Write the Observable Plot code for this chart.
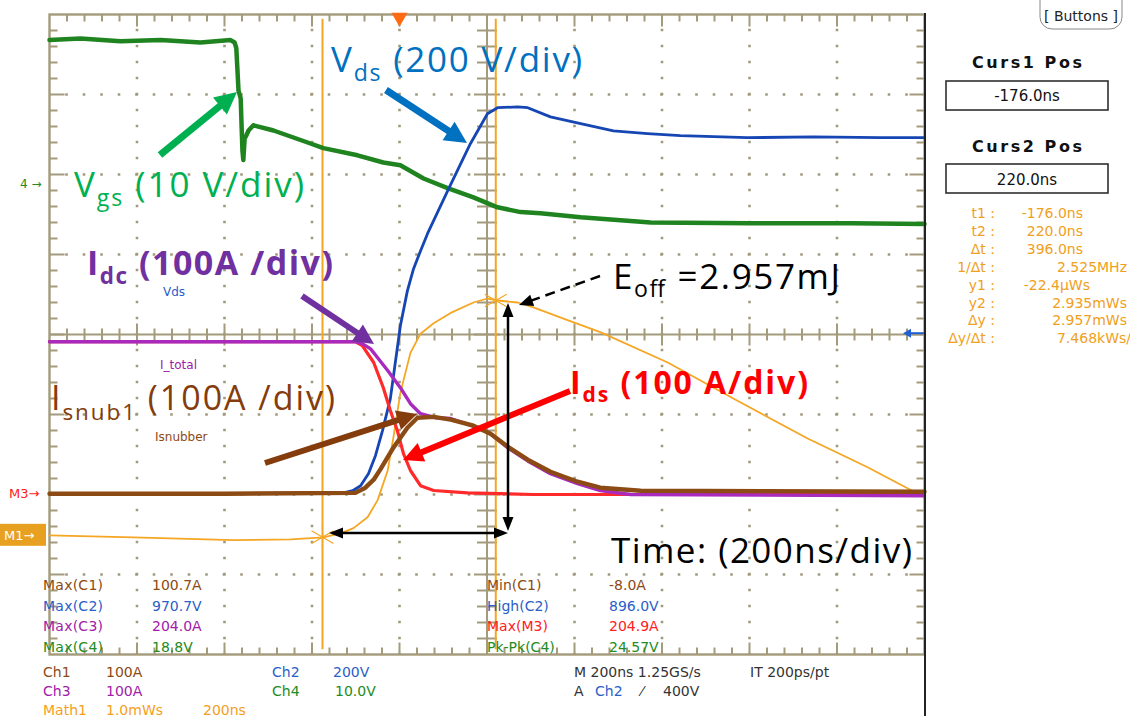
<!DOCTYPE html>
<html><head><meta charset="utf-8">
<script src="https://cdn.jsdelivr.net/npm/d3@7"></script>
<script src="https://cdn.jsdelivr.net/npm/@observablehq/plot@0.6"></script>
<style>
body{margin:0;background:#fff;}
#chart{position:relative;width:1130px;height:719px;overflow:hidden;background:#fff}
#chart > svg{position:absolute;left:0;top:0}
#overlay text{white-space:pre}
</style>
</head><body><div id="chart"></div>
<script>
// ---------------- DATA (time in ns, physical units) ----------------
// Ch4: gate-source voltage Vgs (V)
const vgsT = [-800,-729,-638,-546,-455,-386,-377,-373,-368,-363,-361,-359,-357,-354,-350,-345,-334,-288,-210,-174,-96,-37,2,55,110,169,224,277,322,414,574,802,1031,1200];
const vgsV = [17.9,18.1,17.75,17.9,17.6,17.9,17.6,16.9,11.6,10.6,7.25,4.1,2.9,5.6,6.0,6.6,7.25,6.6,5.1,4.4,3.5,2.6,2.25,0.6,-0.6,-1.75,-3.0,-3.6,-3.75,-4.25,-4.9,-5.0,-5.0,-5.1];
// Ch2: drain-source voltage Vds (V)
const vdsT = [-800,-600,-400,-200,-135,-107,-89,-71,-55,-39,-21,2,18,32,48,64,110,162,201,224,270,293,345,414,489,567,642,795,946,1099,1200];
const vdsV = [0,0,0,0,0,7.5,20,50,95,157,237,420,507,562,607,650,757,875,950,965,967,965,942,925,907,900,895,890,892,890,890];
// Ch3: total dc current I_total (A)
const itotT = [-800,-400,-101,-85,-66,-50,-27,2,25,48,82,117,178,208,247,293,345,407,459,528,1200];
const itotV = [190,190,190,187.5,181,170,154,132.5,112.5,100,95,94,82.5,75,57.5,41,25,12.5,4,-1,-2.5];
// Ch1: snubber current Isnubber (A)
const isnT = [-800,-400,-101,-78,-59,-43,-14,18,41,78,117,169,208,247,293,345,407,459,551,1200];
const isnV = [0,0,1,7.5,17.5,31,57.5,82.5,95,96,92.5,85,75,59,42.5,27.5,15,7.5,3.75,2.5];
// M3: device current Ids (A)
const idsT = [-800,-400,-101,-85,-59,-37,-21,-5,9,25,48,78,155,306,1200];
const idsV = [190,190,190,185,164,132.5,104,79,50,29,10,4,1,-1,-1];
// M1: switching energy (mWs)
const m1T = [-800,-608,-379,-249,-174,-135,-105,-73,-50,-27,-14,2,25,48,78,117,169,201,224,270,306,384,459,613,763,933,1070,1200];
const m1V = [0,-0.025,-0.06,-0.05,-0.025,0.025,0.09,0.225,0.44,0.81,1.22,1.78,2.28,2.52,2.65,2.78,2.91,2.96,2.935,2.91,2.85,2.69,2.54,2.16,1.71,1.21,0.85,0.475];

// scope settings: per-division scale and ground marker position (divisions from centre)
const settings = {
  vgs: {perDiv: 10, ground: 1.89},
  vds: {perDiv: 200, ground: -1.99},
  itot: {perDiv: 100, ground: -1.99},
  isn: {perDiv: 100, ground: -1.99},
  ids: {perDiv: 100, ground: -1.99},
  m1: {perDiv: 1.0, ground: -2.51}
};
// cursors
const cursorT = [-176, 220];
const cursorY = [-0.0224, 2.935]; // mWs
const timeDomain = [-800, 1200];   // 200 ns/div, 10 div
const divDomain = [-4, 4];         // 8 div
const triggerT = 0;
const triggerLevelV = 400;

// readouts
const measLeft = [["Max(C1)","100.7A","#8c4a14"],["Max(C2)","970.7V","#2a5ec8"],["Max(C3)","204.0A","#a020a8"],["Max(C4)","18.8V","#228b22"]];
const measRight = [["Min(C1)","-8.0A","#8c4a14"],["High(C2)","896.0V","#2a5ec8"],["Max(M3)","204.9A","#ff2020"],["Pk-Pk(C4)","24.57V","#228b22"]];
const cursorRows = [["t1 :","-176.0ns"],["t2 :","220.0ns"],["\u0394t :","396.0ns"],["1/\u0394t :","2.525MHz"],["y1 :","-22.4\u00b5Ws"],["y2 :","2.935mWs"],["\u0394y :","2.957mWs"],["\u0394y/\u0394t :","7.468kWs/"]];

// ---------------- styles ----------------
const TAN = "#a39b7c", ORANGE = "#f5a623";
const C = {vgs:"#1f841f", vds:"#1646b4", itot:"#a82bbd", isn:"#8c4a14", ids:"#ff2a2a", m1:ORANGE};
const W = {vgs:4.5, vds:2.8, itot:3.4, isn:4.4, ids:3.2, m1:1.8};

const mk = (T, V, key) => T.map((t, i) => ({t, y: V[i] / settings[key].perDiv + settings[key].ground}));
const series = {
  m1: mk(m1T, m1V, "m1"), vgs: mk(vgsT, vgsV, "vgs"), vds: mk(vdsT, vdsV, "vds"),
  ids: mk(idsT, idsV, "ids"), itot: mk(itotT, itotV, "itot"), isn: mk(isnT, isnV, "isn")
};

// graticule helpers (derived from the 10x8 division screen)
const nsPerPx = 2000 / 875, divPerPx = 1 / 80;
const minorXs = d3.range(0, 51).map(i => -800 + i * 40);
const minorYs = d3.range(0, 41).map(i => -4 + i * 0.2);
const majX = t => Math.abs(((t + 800) % 200)) < 1e-6;
const majY = y => Math.abs(y - Math.round(y)) < 1e-6;
const gridXs = d3.range(1, 10).map(i => -800 + i * 200).filter(t => t !== 200);
const gridYs = d3.range(1, 8).map(j => -4 + j).filter(y => y !== 0);
const ticks = [];
minorXs.forEach(t => { if (t <= -800 || t >= 1200) return; const L = majX(t) ? 12 : 7;
  ticks.push({x1:t, y1:4, x2:t, y2:4 - L*divPerPx}); ticks.push({x1:t, y1:-4, x2:t, y2:-4 + L*divPerPx});
  const c = majX(t) ? 11 : 6; ticks.push({x1:t, y1:-c*divPerPx, x2:t, y2:c*divPerPx}); });
minorYs.forEach(y => { if (y <= -4 || y >= 4) return; const L = majY(y) ? 15 : 8;
  ticks.push({x1:-800, y1:y, x2:-800 + L*nsPerPx, y2:y}); ticks.push({x1:1200, y1:y, x2:1200 - L*nsPerPx, y2:y});
  const c = majY(y) ? 13 : 10; ticks.push({x1:200 - c*nsPerPx, y1:y, x2:200 + c*nsPerPx, y2:y}); });

const traceMark = key => Plot.line(series[key], {x:"t", y:"y", stroke:C[key], strokeWidth:W[key], strokeLinejoin:"round", strokeLinecap:"round"});

const plot = Plot.plot({
  width: 1130, height: 719,
  marginLeft: 49, marginRight: 206, marginTop: 14, marginBottom: 65,
  x: {domain: timeDomain, axis: null},
  y: {domain: divDomain, axis: null},
  marks: [
    // dotted graticule: one dot per minor division along every major line
    Plot.ruleX(gridXs, {stroke:"#a29a7d", strokeWidth:2.6, strokeDasharray:"2.6,13.4", strokeDashoffset:1.3}),
    Plot.ruleY(gridYs, {stroke:"#a29a7d", strokeWidth:2.6, strokeDasharray:"2.6,14.9", strokeDashoffset:1.3}),
    Plot.ruleY([0], {stroke:TAN, strokeWidth:2}),
    Plot.ruleX([200], {stroke:TAN, strokeWidth:2}),
    Plot.link(ticks, {x1:"x1", y1:"y1", x2:"x2", y2:"y2", stroke:TAN, strokeWidth:2}),
    Plot.frame({stroke:TAN, strokeWidth:2.4}),
    Plot.ruleX(cursorT, {y1:3.94, y2:-3.94, stroke:ORANGE, strokeWidth:2}),
    traceMark("m1"), traceMark("vgs"), traceMark("vds"), traceMark("ids"), traceMark("itot"), traceMark("isn"),
    Plot.dot(cursorT.map((t, i) => ({t, y: cursorY[i] / settings.m1.perDiv + settings.m1.ground})), {x:"t", y:"y", symbol:"asterisk", r:12, stroke:ORANGE, strokeWidth:1.2}),
    Plot.dot([triggerT], {x: d => d, y: 4, symbol:"triangle", rotate:180, r:6, fill:"#ff6a13", dy:3})
  ]
});
document.getElementById("chart").appendChild(plot);

// ---------------- annotations overlay (separate transparent SVG on top) ----------------
const sy = plot.scale("y");
const ovSvg = d3.select("#chart").append("svg").attr("id", "overlay").attr("width", 1130).attr("height", 719)
  .style("position", "absolute").style("left", "0px").style("top", "0px").style("pointer-events", "none");
const ov = ovSvg.append("g");
const FA = "'Open Sans','Noto Sans',sans-serif";
const FU = "'DejaVu Sans',sans-serif";

function label(x, y, segs, o) {
  const t = ov.append("text").attr("x", x).attr("y", y).attr("fill", o.color)
    .attr("font-size", o.size).attr("font-weight", o.weight || "normal").attr("font-family", o.family || FA)
    .attr("text-anchor", o.anchor || "start");
  let shifted = 0;
  segs.forEach(s => {
    const [str, sub] = typeof s === "string" ? [s, 0] : s;
    const ts = t.append("tspan").text(str);
    if (sub) { ts.attr("font-size", o.size * 0.66).attr("dy", sub - shifted); shifted = sub; }
    else if (shifted) { ts.attr("dy", -shifted); shifted = 0; }
  });
  if (o.len) t.attr("textLength", o.len).attr("lengthAdjust", "spacing");
  return t;
}
function arrow(x1, y1, x2, y2, o) {
  const a = Math.atan2(y2 - y1, x2 - x1), ux = Math.cos(a), uy = Math.sin(a);
  const hl = o.hl, hw = o.hw;
  const head = (tx, ty, dx, dy) => {
    const bx = tx - dx * hl, by = ty - dy * hl;
    ov.append("path").attr("d", `M${tx},${ty}L${bx - dy*hw/2},${by + dx*hw/2}L${bx + dy*hw/2},${by - dx*hw/2}Z`).attr("fill", o.color);
  };
  const sx1 = o.both ? x1 + ux*hl*0.8 : x1, sy1 = o.both ? y1 + uy*hl*0.8 : y1;
  const ln = ov.append("line").attr("x1", sx1).attr("y1", sy1).attr("x2", x2 - ux*hl*0.8).attr("y2", y2 - uy*hl*0.8)
    .attr("stroke", o.color).attr("stroke-width", o.w);
  if (o.dash) ln.attr("stroke-dasharray", o.dash);
  head(x2, y2, ux, uy);
  if (o.both) head(x1, y1, -ux, -uy);
}

// big annotations
label(331, 72, ["V", ["ds", 9], " (200 V/div)"], {color:"#0070c0", size:35, len:251});
label(74, 197, ["V", ["gs", 9], " (10 V/div)"], {color:"#00b050", size:35, len:230});
label(87, 275, ["I", ["dc", 9], " (100A /div)"], {color:"#7030a0", size:34, weight:"bold", len:246});
label(51, 410, ["I", ["snub1", 10], " (100A /div)"], {color:"#843c0c", size:34, len:284});
label(570, 394, ["I", ["ds", 8], " (100 A/div)"], {color:"#ff0000", size:32, weight:"bold", len:238});
label(613, 289, ["E", ["off", 8], " =2.957mJ"], {color:"#000", size:35, len:227});
label(611, 563, ["Time: (200ns/div)"], {color:"#000", size:35, len:301});

// small trace labels
label(163, 296, ["Vds"], {color:"#2a5ec8", size:12, family:FU});
label(160, 369, ["I_total"], {color:"#a020a8", size:12, family:FU});
label(155, 441, ["Isnubber"], {color:"#8c4a14", size:12, family:FU});

// arrows
arrow(386, 90, 467, 143, {color:"#0070c0", w:7, hl:22, hw:22});
arrow(160, 155, 237, 92, {color:"#00b050", w:7, hl:22, hw:22});
arrow(302, 296, 374, 344, {color:"#7030a0", w:6, hl:20, hw:20});
arrow(265, 463, 417, 414, {color:"#843c0c", w:6, hl:20, hw:20});
arrow(570, 391, 403, 460, {color:"#ff0000", w:6, hl:20, hw:20});
arrow(600, 276, 519, 305, {color:"#000", w:2.5, hl:14, hw:12, dash:"10,6"});
arrow(508, 303, 508, 531, {color:"#000", w:2.5, hl:14, hw:11, both:true});
arrow(329, 533, 508, 533, {color:"#000", w:2.5, hl:14, hw:11, both:true});

// right border of the screen
ov.append("line").attr("x1", 925).attr("x2", 925).attr("y1", 13).attr("y2", 716).attr("stroke", "#222").attr("stroke-width", 2);

// channel ground markers on the left
const gY = k => sy.apply(settings[k].ground);
label(20, gY("vgs") + 5, ["4 \u2192"], {color:"#228b22", size:12, family:FU});
label(9, gY("ids") + 5, ["M3\u2192"], {color:"#ff2020", size:13, family:FU});
ov.append("rect").attr("x", 0).attr("y", gY("m1") - 11).attr("width", 46).attr("height", 22).attr("fill", "#e8a020");
label(4, gY("m1") + 5, ["M1\u2192"], {color:"#fff", size:13, family:FU});
// trigger level (Ch2 400 V) on the right
const trigY = sy.apply(triggerLevelV / settings.vds.perDiv + settings.vds.ground);
arrow(924, trigY, 903, trigY, {color:"#1f5fd0", w:2, hl:8, hw:9});

// measurement readouts in the graticule
measLeft.forEach((r, i) => {
  label(43, 590 + i*20.7, [r[0]], {color:r[2], size:14, family:FU, len:60});
  label(152, 590 + i*20.7, [r[1]], {color:r[2], size:14, family:FU});
});
measRight.forEach((r, i) => {
  label(487, 590 + i*20.7, [r[0]], {color:r[2], size:14, family:FU});
  label(609, 590 + i*20.7, [r[1]], {color:r[2], size:14, family:FU});
});
// channel settings below the graticule
const BR="#8c4a14", BL="#2a5ec8", PU="#a020a8", GR="#228b22", OR="#f5a020", BK="#333";
[[43,677,"Ch1",BR],[106,677,"100A",BR],[272,677,"Ch2",BL],[333,677,"200V",BL],[574,677,"M 200ns 1.25GS/s",BK],[750,677,"IT 200ps/pt",BK],
 [43,696,"Ch3",PU],[106,696,"100A",PU],[272,696,"Ch4",GR],[335,696,"10.0V",GR],[574,696,"A",BK],[595,696,"Ch2",BL],[641,696,"\u2044",BK],[663,696,"400V",BK],
 [43,715,"Math1",OR],[106,715,"1.0mWs",OR],[203,715,"200ns",OR]]
 .forEach(([x, y, s, c]) => label(x, y, [s], {color:c, size:14, family:FU}));

// right-hand cursor panel
ov.append("rect").attr("x", 1040).attr("y", -16).attr("width", 82).attr("height", 45).attr("rx", 12).attr("fill", "none").attr("stroke", "#888").attr("stroke-width", 1);
label(1081, 21, ["[ Buttons ]"], {color:"#222", size:14, family:FU, anchor:"middle"});
label(1027, 68, ["Curs1 Pos"], {color:"#111", size:16, weight:"bold", family:FU, anchor:"middle", len:110});
ov.append("rect").attr("x", 946).attr("y", 81).attr("width", 162).attr("height", 29).attr("fill", "#fff").attr("stroke", "#222").attr("stroke-width", 1.5);
label(1027, 101, ["-176.0ns"], {color:"#111", size:15, family:FU, anchor:"middle"});
label(1027, 152, ["Curs2 Pos"], {color:"#111", size:16, weight:"bold", family:FU, anchor:"middle", len:110});
ov.append("rect").attr("x", 946).attr("y", 164).attr("width", 162).attr("height", 29).attr("fill", "#fff").attr("stroke", "#222").attr("stroke-width", 1.5);
label(1027, 185, ["220.0ns"], {color:"#111", size:15, family:FU, anchor:"middle"});
const valEnd = [1083, 1083, 1083, 1127, 1090, 1127, 1127, 1131];
cursorRows.forEach((r, i) => {
  label(995, 218 + i*17.9, [r[0]], {color:"#f0a020", size:14, family:FU, anchor:"end"});
  label(valEnd[i], 218 + i*17.9, [r[1]], {color:"#f0a020", size:14, family:FU, anchor:"end"});
});
</script>
</body></html>
